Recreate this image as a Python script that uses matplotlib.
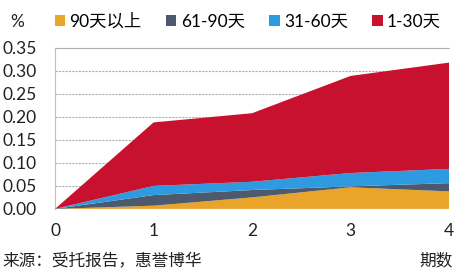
import numpy as np
import matplotlib.pyplot as plt
from matplotlib.patches import Patch

plt.rcParams['font.family'] = ['Lato', 'Noto Sans CJK SC', 'DejaVu Sans']

periods = [0, 1, 2, 3, 4]
over_90 = [0, 0.007, 0.025, 0.047, 0.038]
d61_90 = [0, 0.023, 0.016, 0.002, 0.018]
d31_60 = [0, 0.020, 0.018, 0.029, 0.031]
d1_30 = [0, 0.138, 0.149, 0.211, 0.231]
labels = ['90天以上', '61-90天', '31-60天', '1-30天']
colors = ['#E9A52A', '#4D5A6E', '#2E9BE0', '#C8112F']

fig = plt.figure(figsize=(4.55, 2.72), dpi=100)
ax = fig.add_axes([0.121, 0.232, 0.866, 0.592])

ax.stackplot(periods, over_90, d61_90, d31_60, d1_30, colors=colors, linewidth=0, zorder=3)

ax.set_xlim(0, 4)
ax.set_ylim(0, 0.35)
ax.set_yticks(np.arange(0, 0.351, 0.05))
ax.set_yticklabels([f'{v:.2f}' for v in np.arange(0, 0.351, 0.05)])
ax.set_xticks(periods)
ax.tick_params(axis='both', length=0, labelsize=12.5, colors='#222222')
ax.tick_params(axis='x', pad=10)
ax.tick_params(axis='y', pad=13)
ax.grid(axis='y', color='#b0b0b0', linestyle=(0, (2, 1)), linewidth=0.8, zorder=0)
for s in ['right', 'bottom']:
    ax.spines[s].set_visible(False)
ax.spines['top'].set_color('#b0b0b0')
ax.spines['top'].set_linestyle((0, (2, 1)))
ax.spines['top'].set_linewidth(0.8)
ax.spines['left'].set_color('#c0c0c0')
ax.spines['left'].set_linewidth(0.8)

handles = [Patch(facecolor=c, label=l) for c, l in zip(colors, labels)]
fig.legend(handles=handles, loc='center left', bbox_to_anchor=(0.105, 0.92), ncol=4,
           frameon=False, fontsize=12.5, handlelength=0.6, handleheight=0.6,
           handletextpad=0.25, columnspacing=1.4, borderaxespad=0)

fig.text(0.022, 0.9, '%', fontsize=12.5, color='#222222')
fig.text(0.995, 0.025, '期数', fontsize=12, color='#222222', ha='right')
fig.text(0.005, 0.025, '来源：受托报告，惠誉博华', fontsize=12, color='#222222')

fig.savefig('out.png', dpi=100)
